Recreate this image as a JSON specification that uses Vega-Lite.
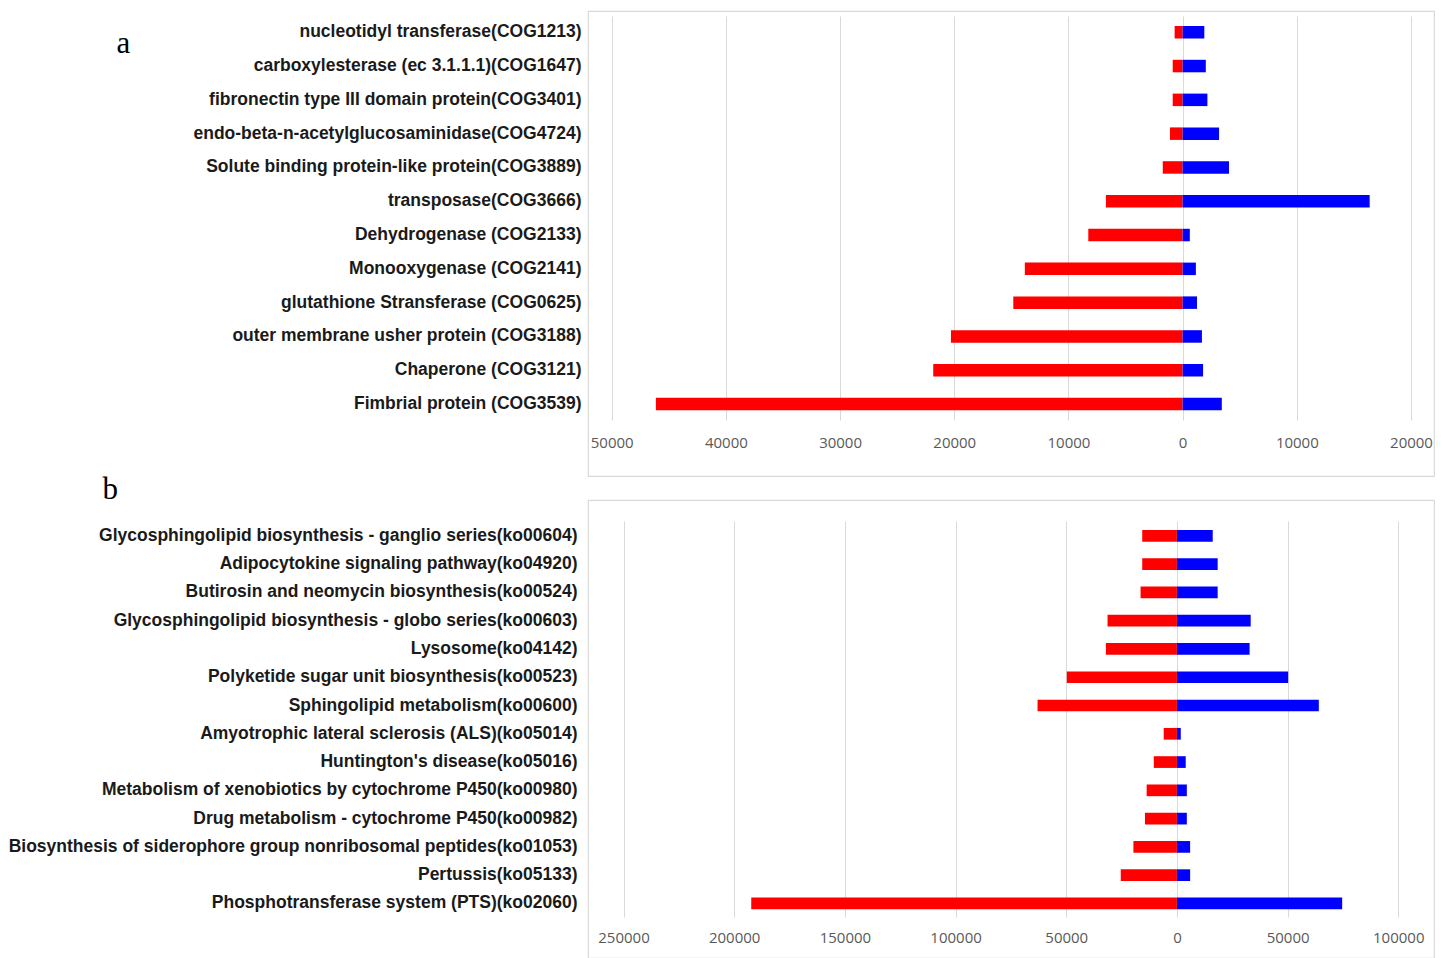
{
  "$schema": "https://vega.github.io/schema/vega-lite/v6.json",
  "background": "white",
  "padding": {"left": 7, "top": 10, "right": 5, "bottom": 0},
  "bounds": "flush",
  "spacing": 24,
  "config": {
    "view": {"stroke": "#d9d9d9", "strokeWidth": 1.2},
    "axis": {"grid": false, "domain": false}
  },
  "datasets": {
    "cog": [
      {"name": "nucleotidyl transferase(COG1213)", "group": "negative", "value": -700},
      {"name": "nucleotidyl transferase(COG1213)", "group": "positive", "value": 1900},
      {"name": "carboxylesterase (ec 3.1.1.1)(COG1647)", "group": "negative", "value": -870},
      {"name": "carboxylesterase (ec 3.1.1.1)(COG1647)", "group": "positive", "value": 2030},
      {"name": "fibronectin type III domain protein(COG3401)", "group": "negative", "value": -870},
      {"name": "fibronectin type III domain protein(COG3401)", "group": "positive", "value": 2170},
      {"name": "endo-beta-n-acetylglucosaminidase(COG4724)", "group": "negative", "value": -1110},
      {"name": "endo-beta-n-acetylglucosaminidase(COG4724)", "group": "positive", "value": 3190},
      {"name": "Solute binding protein-like protein(COG3889)", "group": "negative", "value": -1740},
      {"name": "Solute binding protein-like protein(COG3889)", "group": "positive", "value": 4060},
      {"name": "transposase(COG3666)", "group": "negative", "value": -6720},
      {"name": "transposase(COG3666)", "group": "positive", "value": 16380},
      {"name": "Dehydrogenase (COG2133)", "group": "negative", "value": -8260},
      {"name": "Dehydrogenase (COG2133)", "group": "positive", "value": 630},
      {"name": "Monooxygenase (COG2141)", "group": "negative", "value": -13820},
      {"name": "Monooxygenase (COG2141)", "group": "positive", "value": 1160},
      {"name": "glutathione Stransferase (COG0625)", "group": "negative", "value": -14830},
      {"name": "glutathione Stransferase (COG0625)", "group": "positive", "value": 1260},
      {"name": "outer membrane usher protein (COG3188)", "group": "negative", "value": -20290},
      {"name": "outer membrane usher protein (COG3188)", "group": "positive", "value": 1690},
      {"name": "Chaperone (COG3121)", "group": "negative", "value": -21840},
      {"name": "Chaperone (COG3121)", "group": "positive", "value": 1790},
      {"name": "Fimbrial protein (COG3539)", "group": "negative", "value": -46130},
      {"name": "Fimbrial protein (COG3539)", "group": "positive", "value": 3430}
    ],
    "ko": [
      {"name": "Glycosphingolipid biosynthesis - ganglio series(ko00604)", "group": "negative", "value": -15670},
      {"name": "Glycosphingolipid biosynthesis - ganglio series(ko00604)", "group": "positive", "value": 16170},
      {"name": "Adipocytokine signaling pathway(ko04920)", "group": "negative", "value": -15670},
      {"name": "Adipocytokine signaling pathway(ko04920)", "group": "positive", "value": 18410},
      {"name": "Butirosin and neomycin biosynthesis(ko00524)", "group": "negative", "value": -16420},
      {"name": "Butirosin and neomycin biosynthesis(ko00524)", "group": "positive", "value": 18410},
      {"name": "Glycosphingolipid biosynthesis - globo series(ko00603)", "group": "negative", "value": -31340},
      {"name": "Glycosphingolipid biosynthesis - globo series(ko00603)", "group": "positive", "value": 33330},
      {"name": "Lysosome(ko04142)", "group": "negative", "value": -32090},
      {"name": "Lysosome(ko04142)", "group": "positive", "value": 32840},
      {"name": "Polyketide sugar unit biosynthesis(ko00523)", "group": "negative", "value": -49750},
      {"name": "Polyketide sugar unit biosynthesis(ko00523)", "group": "positive", "value": 50250},
      {"name": "Sphingolipid metabolism(ko00600)", "group": "negative", "value": -62960},
      {"name": "Sphingolipid metabolism(ko00600)", "group": "positive", "value": 64100},
      {"name": "Amyotrophic lateral sclerosis (ALS)(ko05014)", "group": "negative", "value": -5970},
      {"name": "Amyotrophic lateral sclerosis (ALS)(ko05014)", "group": "positive", "value": 1740},
      {"name": "Huntington's disease(ko05016)", "group": "negative", "value": -10450},
      {"name": "Huntington's disease(ko05016)", "group": "positive", "value": 3980},
      {"name": "Metabolism of xenobiotics by cytochrome P450(ko00980)", "group": "negative", "value": -13680},
      {"name": "Metabolism of xenobiotics by cytochrome P450(ko00980)", "group": "positive", "value": 4480},
      {"name": "Drug metabolism - cytochrome P450(ko00982)", "group": "negative", "value": -14430},
      {"name": "Drug metabolism - cytochrome P450(ko00982)", "group": "positive", "value": 4480},
      {"name": "Biosynthesis of siderophore group nonribosomal peptides(ko01053)", "group": "negative", "value": -19650},
      {"name": "Biosynthesis of siderophore group nonribosomal peptides(ko01053)", "group": "positive", "value": 5970},
      {"name": "Pertussis(ko05133)", "group": "negative", "value": -25370},
      {"name": "Pertussis(ko05133)", "group": "positive", "value": 5970},
      {"name": "Phosphotransferase system (PTS)(ko02060)", "group": "negative", "value": -192300},
      {"name": "Phosphotransferase system (PTS)(ko02060)", "group": "positive", "value": 74660}
    ]
  },
  "vconcat": [
    {
      "width": 846,
      "height": 465,
      "data": {"name": "cog"},
      "mark": {"type": "bar"},
      "encoding": {
        "y": {
          "field": "name",
          "type": "nominal",
          "sort": null,
          "scale": {"range": [15, 399.3], "paddingInner": 0.63, "paddingOuter": 0},
          "axis": {
            "ticks": false,
            "labelPadding": 7,
            "labelFont": "Liberation Sans",
            "labelFontWeight": "bold",
            "labelFontSize": 17.5,
            "labelColor": "#1a1a1a",
            "labelLimit": 700,
            "title": "a",
            "titleFont": "Liberation Serif",
            "titleFontWeight": "normal",
            "titleFontSize": 31,
            "titleColor": "#000000",
            "titleAngle": 0,
            "titleAlign": "left",
            "titleBaseline": "alphabetic",
            "titleX": -472,
            "titleY": 41
          }
        },
        "x": {
          "field": "value",
          "type": "quantitative",
          "stack": null,
          "scale": {"domain": [-52075, 22014], "nice": false, "zero": false},
          "axis": {
            "title": null,
            "orient": "bottom",
            "offset": -56,
            "values": [-50000, -40000, -30000, -20000, -10000, 0, 10000, 20000],
            "labelExpr": "format(abs(datum.value), 'd')",
            "ticks": true,
            "tickSize": -404,
            "tickColor": "#d9d9d9",
            "tickWidth": 1,
            "labelPadding": 426,
            "labelBaseline": "middle",
            "labelFont": "Open Sans",
            "labelFontSize": 15,
            "labelColor": "#595959",
            "labelFlush": false,
            "labelOverlap": false
          }
        },
        "color": {
          "field": "group",
          "type": "nominal",
          "scale": {"domain": ["negative", "positive"], "range": ["#ff0000", "#0000ff"]},
          "legend": null
        }
      }
    },
    {
      "width": 846,
      "height": 458,
      "data": {"name": "ko"},
      "mark": {"type": "bar"},
      "encoding": {
        "y": {
          "field": "name",
          "type": "nominal",
          "sort": null,
          "scale": {"range": [30, 409.3], "paddingInner": 0.586, "paddingOuter": 0},
          "axis": {
            "ticks": false,
            "labelPadding": 11,
            "labelFont": "Liberation Sans",
            "labelFontWeight": "bold",
            "labelFontSize": 17.5,
            "labelColor": "#1a1a1a",
            "labelLimit": 800,
            "title": "b",
            "titleFont": "Liberation Serif",
            "titleFontWeight": "normal",
            "titleFontSize": 31,
            "titleColor": "#000000",
            "titleAngle": 0,
            "titleAlign": "left",
            "titleBaseline": "alphabetic",
            "titleX": -486,
            "titleY": -2
          }
        },
        "x": {
          "field": "value",
          "type": "quantitative",
          "stack": null,
          "scale": {"domain": [-266049, 116139], "nice": false, "zero": false},
          "axis": {
            "title": null,
            "orient": "bottom",
            "offset": -41,
            "values": [-250000, -200000, -150000, -100000, -50000, 0, 50000, 100000],
            "labelExpr": "format(abs(datum.value), 'd')",
            "ticks": true,
            "tickSize": -396,
            "tickColor": "#d9d9d9",
            "tickWidth": 1,
            "labelPadding": 416,
            "labelBaseline": "middle",
            "labelFont": "Open Sans",
            "labelFontSize": 15,
            "labelColor": "#595959",
            "labelFlush": false,
            "labelOverlap": false
          }
        },
        "color": {
          "field": "group",
          "type": "nominal",
          "scale": {"domain": ["negative", "positive"], "range": ["#ff0000", "#0000ff"]},
          "legend": null
        }
      }
    }
  ]
}
